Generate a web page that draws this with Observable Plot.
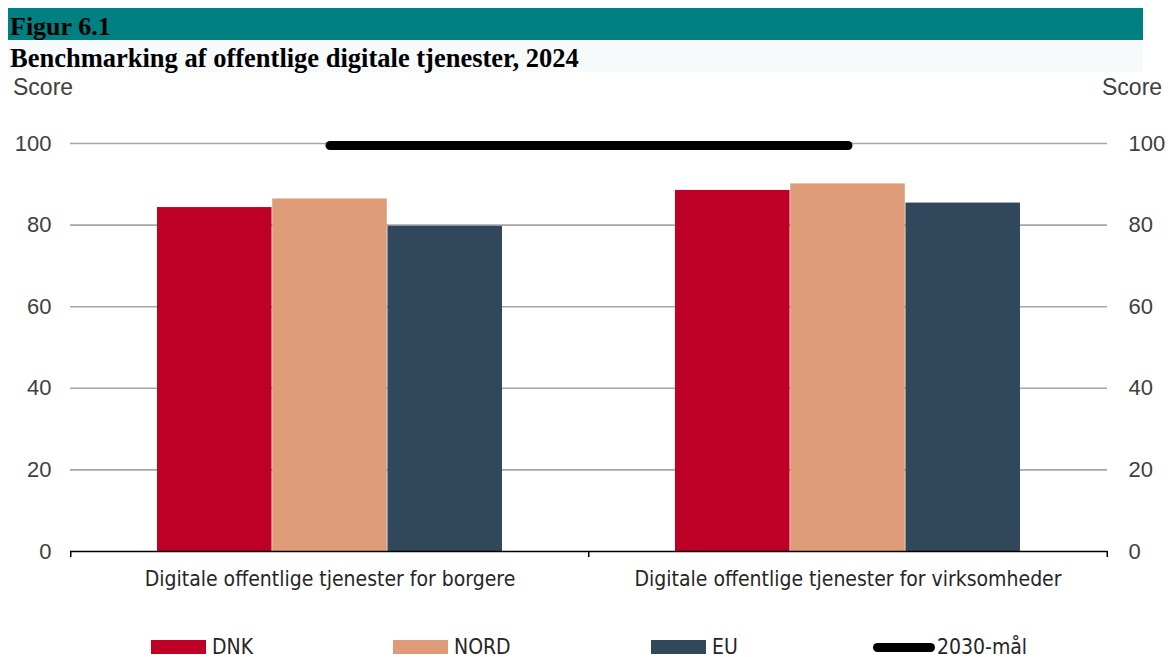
<!DOCTYPE html>
<html><head><meta charset="utf-8">
<script src="https://cdn.jsdelivr.net/npm/d3@7"></script>
<script src="https://cdn.jsdelivr.net/npm/@observablehq/plot@0.6"></script>
<style>
body{margin:0;background:#fff;width:1173px;height:657px;overflow:hidden;position:relative;font-family:"Liberation Sans",Arial,sans-serif}
#fig{position:absolute;left:8px;top:8px;width:1135px;height:32px;background:#008080;font:bold 26px "Liberation Serif","Times New Roman",serif;line-height:38px;padding-left:2px;box-sizing:border-box;color:#000;overflow:hidden}
#title{position:absolute;left:8px;top:40px;width:1135px;height:32px;background:#f6fafa;font:bold 26.5px "Liberation Serif","Times New Roman",serif;line-height:36px;padding-left:2px;box-sizing:border-box;color:#000}
.score{position:absolute;top:74px;font-size:23px;color:#404040}
#chart{position:absolute;left:0;top:72px}
.leg{position:absolute;top:636px;height:22px;display:flex;align-items:center;font:21px "Liberation Sans Narrow","Arial Narrow","DejaVu Sans Condensed",sans-serif;color:#262626}
.sw{width:55px;height:14px;margin-right:6px}
.ln{width:62px;height:9px;border-radius:5px;background:#000;margin-right:2px}
</style></head>
<body>
<div id="fig">Figur 6.1</div>
<div id="title">Benchmarking af offentlige digitale tjenester, 2024</div>
<div class="score" style="left:13px">Score</div>
<div class="score" style="left:1102px">Score</div>
<div id="chart"></div>
<div id="legend"></div>
<script>
const categories = ["Digitale offentlige tjenester for borgere", "Digitale offentlige tjenester for virksomheder"];
const series = ["DNK", "NORD", "EU"];
const dnkValues = [84.3, 88.5];
const nordValues = [86.4, 90.1];
const euValues = [79.7, 85.4];
const goalLabel = "2030-mål";
const goalValues = [100, 100];
const yTicks = [0, 20, 40, 60, 80, 100];
const colors = ["#be0027", "#de9b77", "#30475c"];

const valuesBySeries = [dnkValues, nordValues, euValues];
const rows = [];
series.forEach((s, i) => categories.forEach((c, j) => rows.push({series: s, category: c, value: valuesBySeries[i][j]})));
const goalRows = categories.map((c, j) => ({category: c, value: goalValues[j]}));

const W = 1173, H = 540, mL = 70, mR = 66, mT = 71, mB = 61;
const xOpts = {type: "band", domain: categories, paddingInner: 1/3, paddingOuter: 1/6};
const xs = Plot.scale({x: {...xOpts, range: [mL, W - mR]}});
const bw = xs.bandwidth, step = xs.step;

const marks = [
  Plot.ruleY(yTicks.filter(d => d > 0), {stroke: "#a6a6a6", strokeWidth: 1.6}),
  ...series.map((s, i) => Plot.barY(rows.filter(r => r.series === s), {
    x: "category", y: "value", fill: "series",
    insetLeft: i * bw / 3, insetRight: (series.length - 1 - i) * bw / 3
  })),
  Plot.ruleY([0], {stroke: "#000", strokeWidth: 1.5}),
  Plot.ruleX(categories, {x: d => d, y1: 0, y2: -1.5, dx: -step / 2, stroke: "#000", strokeWidth: 1.5}),
  Plot.ruleX(categories.slice(-1), {x: d => d, y1: 0, y2: -1.5, dx: step / 2, stroke: "#000", strokeWidth: 1.5}),
  Plot.lineY(goalRows, {x: "category", y: "value", stroke: "#000", strokeWidth: 9, strokeLinecap: "round", dy: 2}),
  Plot.axisY(yTicks, {anchor: "left", tickSize: 0, tickPadding: 19, label: null, fontSize: 22, color: "#404040"}),
  Plot.axisY(yTicks, {anchor: "right", tickSize: 0, tickPadding: 21, label: null, fontSize: 22, color: "#404040"}),
  Plot.axisX({anchor: "bottom", tickSize: 0, tickPadding: 20, label: null, fontSize: 21, color: "#262626",
    fontFamily: "'Liberation Sans Narrow','Arial Narrow','DejaVu Sans Condensed',sans-serif"})
];

const chart = Plot.plot({
  width: W, height: H, marginLeft: mL, marginRight: mR, marginTop: mT, marginBottom: mB,
  x: xOpts,
  y: {domain: [0, 100]},
  color: {domain: series, range: colors},
  style: {fontFamily: "'Liberation Sans',Arial,sans-serif", background: "transparent"},
  marks
});
document.getElementById("chart").appendChild(chart);

const legendPos = [151, 393, 651, 873];
const leg = document.getElementById("legend");
series.forEach((s, i) => {
  const d = document.createElement("div");
  d.className = "leg"; d.style.left = legendPos[i] + "px";
  d.innerHTML = `<span class="sw" style="background:${colors[i]}"></span>${s}`;
  leg.appendChild(d);
});
const g = document.createElement("div");
g.className = "leg"; g.style.left = legendPos[3] + "px";
g.innerHTML = `<span class="ln"></span>${goalLabel}`;
leg.appendChild(g);
</script>
</body></html>
